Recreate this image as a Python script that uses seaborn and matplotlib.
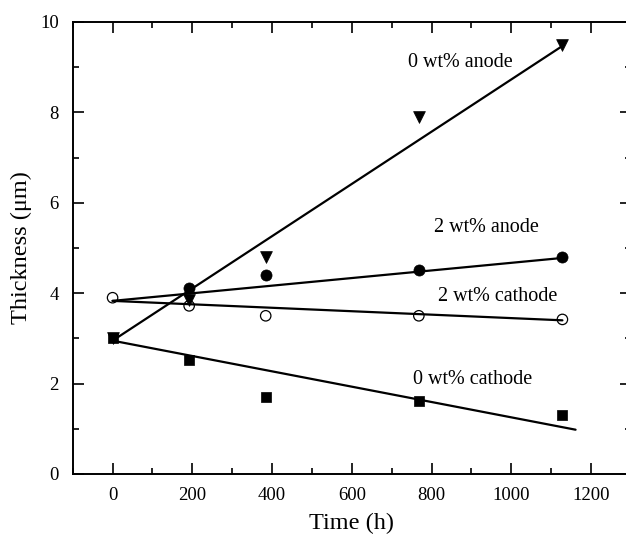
import matplotlib
matplotlib.use("Agg")
import matplotlib.pyplot as plt
from matplotlib.ticker import MultipleLocator
import seaborn as sns
import pandas as pd
import numpy as np

# ---- data ----
time_h = [0, 192, 384, 768, 1128]
anode_0wt = [3.0, 3.85, 4.8, 7.9, 9.5]
cathode_0wt = [3.0, 2.52, 1.7, 1.61, 1.3]
anode_2wt = [np.nan, 4.11, 4.4, 4.51, 4.81]
cathode_2wt = [3.9, 3.72, 3.5, 3.5, 3.42]

# fitted trend lines (start/end)
fit_names = ["0 wt% anode", "2 wt% anode", "2 wt% cathode", "0 wt% cathode"]
fit_x0 = [0, 0, 0, 0]
fit_x1 = [1128, 1128, 1128, 1161]
fit_y0 = [2.95, 3.83, 3.83, 2.95]
fit_y1 = [9.47, 4.78, 3.40, 0.98]

# label anchors (data units)
label_x = [740, 807, 815, 754]
label_y = [9.1, 5.46, 3.92, 2.08]

x_ticks = [0, 200, 400, 600, 800, 1000, 1200]
y_ticks = [0, 2, 4, 6, 8, 10]

sns.set_theme(style="ticks")
plt.rcParams["font.family"] = ["Liberation Serif", "DejaVu Serif"]
plt.rcParams["text.color"] = "black"
plt.rcParams["axes.labelcolor"] = "black"
plt.rcParams["xtick.color"] = "black"
plt.rcParams["ytick.color"] = "black"

fig = plt.figure(figsize=(6.26, 5.38), dpi=100)
ax = fig.add_axes([72.7 / 626, (538 - 474) / 538, (631 - 72.7) / 626, 452 / 538])

# trend lines
for name, a, b, c, d in zip(fit_names, fit_x0, fit_x1, fit_y0, fit_y1):
    df_line = pd.DataFrame({"x": [a, b], "y": [c, d]})
    sns.lineplot(data=df_line, x="x", y="y", ax=ax, color="black", lw=1.6,
                 estimator=None, sort=False, zorder=2)

# markers
series = [
    (cathode_0wt, "s", 7.0),
    (anode_2wt, "o", 8.0),
    (anode_0wt, "v", 8.5),
]
for vals, mk, ms in series:
    df = pd.DataFrame({"t": time_h, "v": vals}).dropna()
    sns.scatterplot(data=df, x="t", y="v", ax=ax, marker=mk, color="black",
                    s=ms ** 2, edgecolor="black", linewidth=0.5, zorder=3)
df_oc = pd.DataFrame({"t": time_h, "v": cathode_2wt})
sns.scatterplot(data=df_oc, x="t", y="v", ax=ax, marker="o", facecolor="none",
                s=7.5 ** 2, edgecolor="black", linewidth=0.9, zorder=4)

# labels for lines
for name, lx, ly in zip(fit_names, label_x, label_y):
    ax.text(lx, ly, name, fontsize=14.5, va="center", ha="left", color="black")

ax.set_xlim(-100, 1300)
ax.set_ylim(0, 10)
ax.set_xticks(x_ticks)
ax.set_yticks(y_ticks)
ax.xaxis.set_minor_locator(MultipleLocator(100))
ax.yaxis.set_minor_locator(MultipleLocator(1))
ax.tick_params(which="both", direction="in", top=True, right=True, width=1.2,
               colors="black", labelsize=13.5)
ax.tick_params(which="major", length=8)
ax.tick_params(which="minor", length=4)
ax.tick_params(axis="x", pad=9)
ax.tick_params(axis="y", pad=10)
for s in ax.spines.values():
    s.set_linewidth(1.4)
    s.set_color("black")

ax.set_xlabel("Time (h)", fontsize=17.5, labelpad=7, color="black")
ax.set_ylabel("Thickness (μm)", fontsize=17.5, labelpad=6, color="black")

fig.savefig("out.png", dpi=100)
